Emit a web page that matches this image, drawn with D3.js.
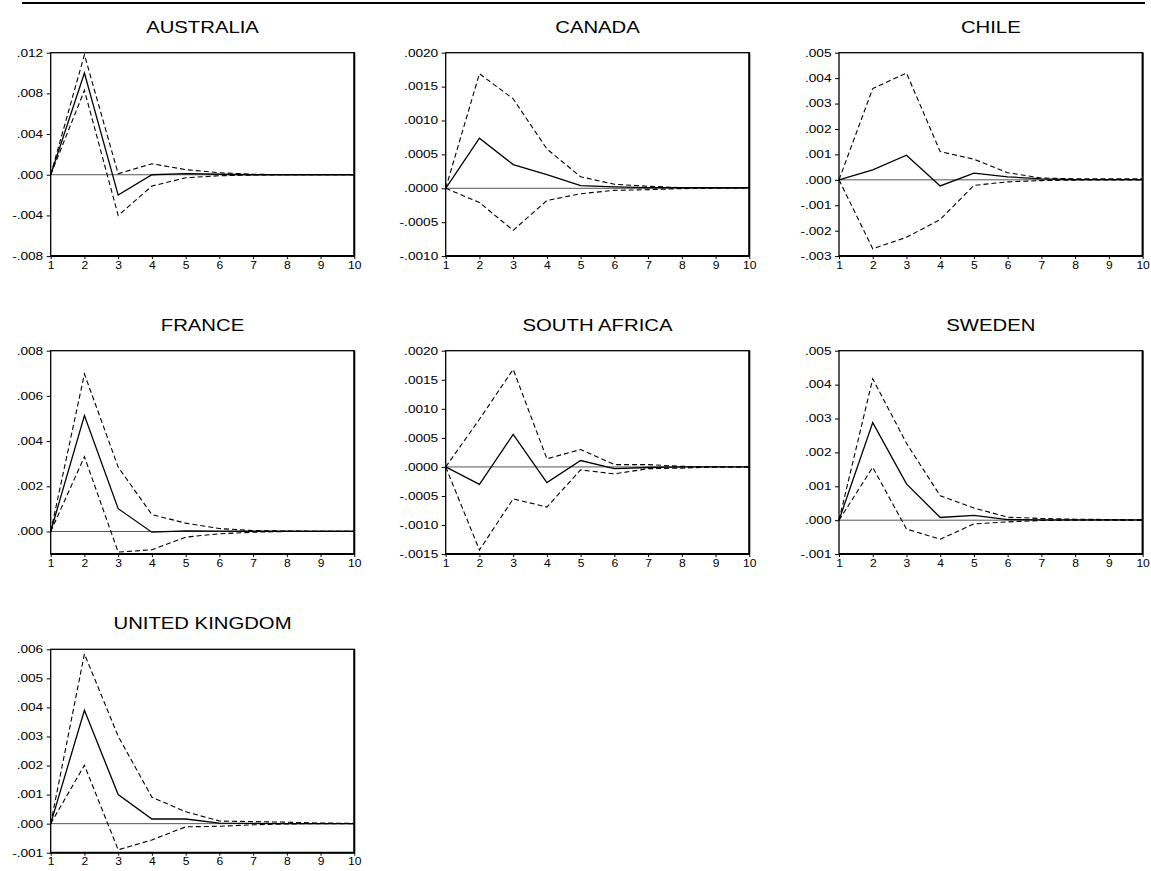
<!DOCTYPE html>
<html>
<head>
<meta charset="utf-8">
<script src="https://cdn.jsdelivr.net/npm/d3@7/dist/d3.min.js"></script>
<style>
  html, body { margin: 0; padding: 0; background: #fff; }
  svg { display: block; }
  text { font-family: Arial, "Liberation Sans", sans-serif; fill: #000; }
</style>
</head>
<body>
<svg id="chart" width="1151" height="871"></svg>
<script>
// ---- Data ----
const periods = [1, 2, 3, 4, 5, 6, 7, 8, 9, 10];
const countries = ["AUSTRALIA", "CANADA", "CHILE", "FRANCE", "SOUTH AFRICA", "SWEDEN", "UNITED KINGDOM"];

const australiaResp  = [0, 0.0100, -0.0020, 0.0000, 0.0001, 0.00005, 0, 0, 0, 0];
const australiaUpper = [0, 0.0118, 0.0001, 0.00108, 0.0005, 0.0002, 0.00005, 0, 0, 0];
const australiaLower = [0, 0.0083, -0.0040, -0.00111, -0.0003, -0.0001, -0.00003, 0, 0, 0];

const canadaResp  = [0, 0.00074, 0.00035, 0.00020, 0.00004, 0.00002, 0.00001, 0.00001, 0.00001, 0.00001];
const canadaUpper = [0, 0.00169, 0.00132, 0.00058, 0.00017, 0.00006, 0.00003, 0.00001, 0.00001, 0.00001];
const canadaLower = [0, -0.00021, -0.00062, -0.00018, -0.00008, -0.00003, -0.00002, -0.000005, 0, 0];

const chileResp  = [0, 0.00039, 0.00097, -0.00024, 0.00026, 0.00012, 0.00004, 0.00001, 0.00001, 0.00001];
const chileUpper = [0, 0.00359, 0.00420, 0.00111, 0.00081, 0.00028, 0.00007, 0.00004, 0.00004, 0.00004];
const chileLower = [0, -0.00271, -0.00226, -0.00156, -0.00022, -0.00008, -0.00003, -0.00001, 0, 0];

const franceResp  = [0, 0.00513, 0.00101, -0.00003, 0.00003, 0.00002, 0.00001, 0.00001, 0.00001, 0.00001];
const franceUpper = [0, 0.00697, 0.00285, 0.00075, 0.00037, 0.00013, 0.00004, 0.00002, 0.00001, 0.00001];
const franceLower = [0, 0.00331, -0.00091, -0.00081, -0.00025, -0.00010, -0.00003, 0, 0, 0];

const southAfricaResp  = [0, -0.00030, 0.00056, -0.00027, 0.00011, -0.00003, -0.00001, 0, 0, 0];
const southAfricaUpper = [0, 0.00082, 0.00168, 0.00014, 0.00030, 0.00004, 0.00004, 0.00001, 0, 0];
const southAfricaLower = [0, -0.00143, -0.00055, -0.00069, -0.00005, -0.00012, -0.00003, -0.00002, 0, 0];

const swedenResp  = [0, 0.00288, 0.00107, 0.00008, 0.00014, 0.00002, 0.00001, 0.00001, 0.00001, 0.00001];
const swedenUpper = [0, 0.00417, 0.00227, 0.00072, 0.00036, 0.00009, 0.00005, 0.00003, 0.00002, 0.00001];
const swedenLower = [0, 0.00156, -0.00026, -0.00056, -0.00011, -0.00005, -0.00001, 0, 0, 0];

const ukResp  = [0, 0.00390, 0.00100, 0.00016, 0.00016, 0.00002, 0.00001, 0, 0, 0];
const ukUpper = [0, 0.00584, 0.00301, 0.00091, 0.00041, 0.00009, 0.00007, 0.00005, 0.00002, 0.00001];
const ukLower = [0, 0.00201, -0.00090, -0.00056, -0.00011, -0.00009, -0.00004, -0.00001, 0, 0];

// y-axis tick values (tick labels)
const australiaTicks   = [-0.008, -0.004, 0, 0.004, 0.008, 0.012];
const canadaTicks      = [-0.0010, -0.0005, 0, 0.0005, 0.0010, 0.0015, 0.0020];
const chileTicks       = [-0.003, -0.002, -0.001, 0, 0.001, 0.002, 0.003, 0.004, 0.005];
const franceTicks      = [0, 0.002, 0.004, 0.006, 0.008];
const southAfricaTicks = [-0.0015, -0.0010, -0.0005, 0, 0.0005, 0.0010, 0.0015, 0.0020];
const swedenTicks      = [-0.001, 0, 0.001, 0.002, 0.003, 0.004, 0.005];
const ukTicks          = [-0.001, 0, 0.001, 0.002, 0.003, 0.004, 0.005, 0.006];

const domains = [
  [-0.008, 0.012], [-0.0010, 0.0020], [-0.003, 0.005],
  [-0.001, 0.008], [-0.0015, 0.0020], [-0.001, 0.005],
  [-0.001, 0.006]
];
const decimals = [3, 4, 3, 3, 4, 3, 3];
const tickSets = [australiaTicks, canadaTicks, chileTicks, franceTicks, southAfricaTicks, swedenTicks, ukTicks];
const series = [
  [australiaResp, australiaUpper, australiaLower],
  [canadaResp, canadaUpper, canadaLower],
  [chileResp, chileUpper, chileLower],
  [franceResp, franceUpper, franceLower],
  [southAfricaResp, southAfricaUpper, southAfricaLower],
  [swedenResp, swedenUpper, swedenLower],
  [ukResp, ukUpper, ukLower]
];

// ---- Layout ----
const svg = d3.select("#chart");
const colLeft = [50.7, 445.7, 839];
const rowTop = [52.7, 350.7, 649.3];
const pw = 303.6, ph = 203.4;

// top rule
svg.append("line")
  .attr("x1", 22).attr("x2", 1145).attr("y1", 3).attr("y2", 3)
  .attr("stroke", "#000").attr("stroke-width", 2);

function fmt(d, dec) {
  let s = Math.abs(d).toFixed(dec).replace(/^0/, "");
  return (d < -1e-12 ? "-" : "") + s;
}

const ySX = 1.3, xSX = 1.15, tSX = 1.23;

countries.forEach((name, i) => {
  const col = i % 3, row = Math.floor(i / 3);
  const g = svg.append("g").attr("transform", `translate(${colLeft[col]},${rowTop[row]})`);

  const x = d3.scaleLinear().domain([1, 10]).range([0, pw]);
  const y = d3.scaleLinear().domain(domains[i]).range([ph, 0]);

  // title
  g.append("text")
    .attr("transform", `translate(${pw / 2},-20) scale(${tSX},1)`)
    .attr("text-anchor", "middle")
    .style("font-size", "16.5px")
    .text(name);

  // zero line
  g.append("line")
    .attr("x1", 0).attr("x2", pw)
    .attr("y1", y(0)).attr("y2", y(0))
    .attr("stroke", "#555").attr("stroke-width", 1);

  const line = d3.line().x((d, j) => x(periods[j])).y(d => y(d));
  const [resp, up, lo] = series[i];
  [up, lo].forEach(s => {
    g.append("path").datum(s).attr("d", line)
      .attr("fill", "none").attr("stroke", "#000")
      .attr("stroke-width", 1.1).attr("stroke-dasharray", "5,3");
  });
  g.append("path").datum(resp).attr("d", line)
    .attr("fill", "none").attr("stroke", "#000").attr("stroke-width", 1.3);

  // frame
  g.append("rect").attr("x", 0).attr("y", 0).attr("width", pw).attr("height", ph)
    .attr("fill", "none").attr("stroke", "#000").attr("stroke-width", 1.3);
  g.append("line").attr("x1", pw).attr("x2", pw).attr("y1", 0).attr("y2", ph)
    .attr("stroke", "#000").attr("stroke-width", 2);
  g.append("line").attr("x1", 0).attr("x2", pw).attr("y1", ph).attr("y2", ph)
    .attr("stroke", "#000").attr("stroke-width", 2);

  // y axis
  const yAxis = g.append("g")
    .call(d3.axisLeft(y).tickValues(tickSets[i]).tickSize(4).tickPadding(2)
      .tickFormat(d => fmt(d, decimals[i])));
  yAxis.select(".domain").remove();
  yAxis.selectAll("line").attr("stroke", "#000");
  yAxis.selectAll("text")
    .style("font-size", "10.5px")
    .attr("x", -7.5 / ySX)
    .attr("transform", `scale(${ySX},1)`);

  // x axis
  const xAxis = g.append("g").attr("transform", `translate(0,${ph})`)
    .call(d3.axisBottom(x).tickValues(periods).tickSize(3).tickPadding(2)
      .tickFormat(d3.format("d")));
  xAxis.select(".domain").remove();
  xAxis.selectAll("line").attr("stroke", "#000");
  xAxis.selectAll("text")
    .style("font-size", "10.5px")
    .attr("transform", `scale(${xSX},1)`);
});
</script>
</body>
</html>
